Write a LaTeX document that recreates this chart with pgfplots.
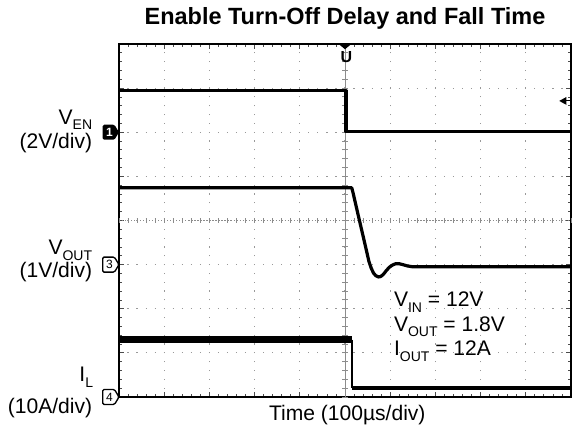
\documentclass[border=0pt]{standalone}
\usepackage{pgfplots}
\pgfplotsset{compat=1.18}
\usepackage{fontspec}
\setmainfont{Liberation Sans}

% scope channels, in divisions (10 x 8 grid)
\pgfplotstableread{
x y
0 6.94
5.02 6.94
5.02 6.01
10 6.01
}\ven
\pgfplotstableread{
x y
0 4.74
5.15 4.74
5.18 4.62
5.29 4.13
5.42 3.56
5.53 3.07
5.58 2.92
5.63 2.81
5.68 2.75
5.74 2.72
5.79 2.73
5.85 2.78
5.91 2.86
5.98 2.94
6.05 2.99
6.12 3.02
6.20 3.02
6.28 3.00
6.38 2.97
6.50 2.95
10 2.95
}\vout

\newcommand{\lbl}{\fontsize{15.8}{18}\selectfont}
\newcommand{\sub}[1]{\raisebox{-0.5ex}{\fontsize{10.5}{11}\selectfont #1}}

\begin{document}
\begin{tikzpicture}
\useasboundingbox (-89.25pt,-33pt) rectangle ++(429pt,330.75pt);
\begin{axis}[
    scale only axis, width=339pt, height=264.75pt,
    at={(0,0)}, anchor=south west,
    xmin=0, xmax=10, ymin=0, ymax=8,
    xtick={0,...,10}, ytick={0,...,8},
    minor tick num=4,
    tick align=inside, tick pos=both,
    major tick length=3.5pt, minor tick length=2.5pt,
    xticklabel=\empty, yticklabel=\empty,
    axis line style={line width=1.2pt},
    tick style={black!70, line width=0.6pt},
    grid=major,
    x grid style={black!40, line width=0.9pt, dash pattern=on 0.9pt off 5.72pt, dash phase=0.45pt},
    y grid style={black!40, line width=0.9pt, dash pattern=on 0.9pt off 5.88pt, dash phase=0.45pt},
    clip=false,
]
% centre graticule with small ticks
\draw[black!45, line width=0.6pt] (axis cs:5,0) -- (axis cs:5,8);
\draw[black!45, line width=4pt, dash pattern=on 0.7pt off 5.92pt, dash phase=0.35pt] (axis cs:5,0) -- (axis cs:5,8);
\draw[black!45, line width=0.6pt, dash pattern=on 0.9pt off 1.36pt] (axis cs:0,4) -- (axis cs:10,4);
\draw[black!45, line width=4pt, dash pattern=on 0.7pt off 6.08pt, dash phase=0.35pt] (axis cs:0,4) -- (axis cs:10,4);

\addplot[black, line width=2.4pt, line join=round] table {\ven};
\addplot[black, line width=2.4pt, line join=round] table {\vout};
\addplot[black, line width=5.5pt, line cap=butt] coordinates {(0,1.3) (5.15,1.3)};
\addplot[black, line width=1.2pt] coordinates {(5.15,1.3) (5.15,0.2)};
\addplot[black, line width=2.6pt] coordinates {(5.15,0.2) (10,0.2)};

% channel markers
\fill[black, rounded corners=1pt] (axis cs:-0.36,5.83) -- (axis cs:-0.1,5.83) -- (axis cs:0,6) -- (axis cs:-0.1,6.17) -- (axis cs:-0.36,6.17) -- cycle;
\node[white, font=\bfseries\fontsize{9}{9}\selectfont] at (axis cs:-0.21,6) {1};
\draw[black, fill=white, line width=1pt, rounded corners=1pt] (axis cs:-0.36,2.83) -- (axis cs:-0.1,2.83) -- (axis cs:0,3) -- (axis cs:-0.1,3.17) -- (axis cs:-0.36,3.17) -- cycle;
\node[font=\fontsize{9}{9}\selectfont] at (axis cs:-0.21,3) {3};
\draw[black, fill=white, line width=1pt, rounded corners=1pt] (axis cs:-0.36,-0.17) -- (axis cs:-0.1,-0.17) -- (axis cs:0,0) -- (axis cs:-0.1,0.17) -- (axis cs:-0.36,0.17) -- cycle;
\node[font=\fontsize{9}{9}\selectfont] at (axis cs:-0.21,0) {4};

% trigger position and level markers
\fill[black] (axis cs:4.86,8) -- (axis cs:5.14,8) -- (axis cs:5,7.88) -- cycle;
\node[font=\bfseries\fontsize{12}{12}\selectfont] at (axis cs:5.03,7.7) {U};
\fill[black] (axis cs:9.74,6.71) -- (axis cs:9.9,6.8) -- (axis cs:9.9,6.62) -- cycle;
\draw[black, line width=0.8pt] (axis cs:9.88,6.71) -- (axis cs:9.98,6.71);

% channel labels
\node[anchor=east, font=\lbl] at (axis cs:-0.49,6.28) {V\sub{EN}};
\node[anchor=east, font=\lbl] at (axis cs:-0.49,5.76) {(2V/div)};
\node[anchor=east, font=\lbl] at (axis cs:-0.49,3.33) {V\sub{OUT}};
\node[anchor=east, font=\lbl] at (axis cs:-0.49,2.83) {(1V/div)};
\node[anchor=east, font=\lbl] at (axis cs:-0.47,0.45) {I\sub{L}};
\node[anchor=east, font=\lbl] at (axis cs:-0.49,-0.25) {(10A/div)};

% conditions
\node[anchor=west, font=\lbl] at (axis cs:5.98,2.15) {V\sub{IN} = 12V};
\node[anchor=west, font=\lbl] at (axis cs:5.98,1.59) {V\sub{OUT} = 1.8V};
\node[anchor=west, font=\lbl] at (axis cs:5.98,1.04) {I\sub{OUT} = 12A};

\node[font=\bfseries\fontsize{17.6}{20}\selectfont] at (axis cs:5.0,8.59) {Enable Turn-Off Delay and Fall Time};
\node[font=\lbl] at (axis cs:5.05,-0.4) {Time (100µs/div)};
\end{axis}
\end{tikzpicture}
\end{document}
